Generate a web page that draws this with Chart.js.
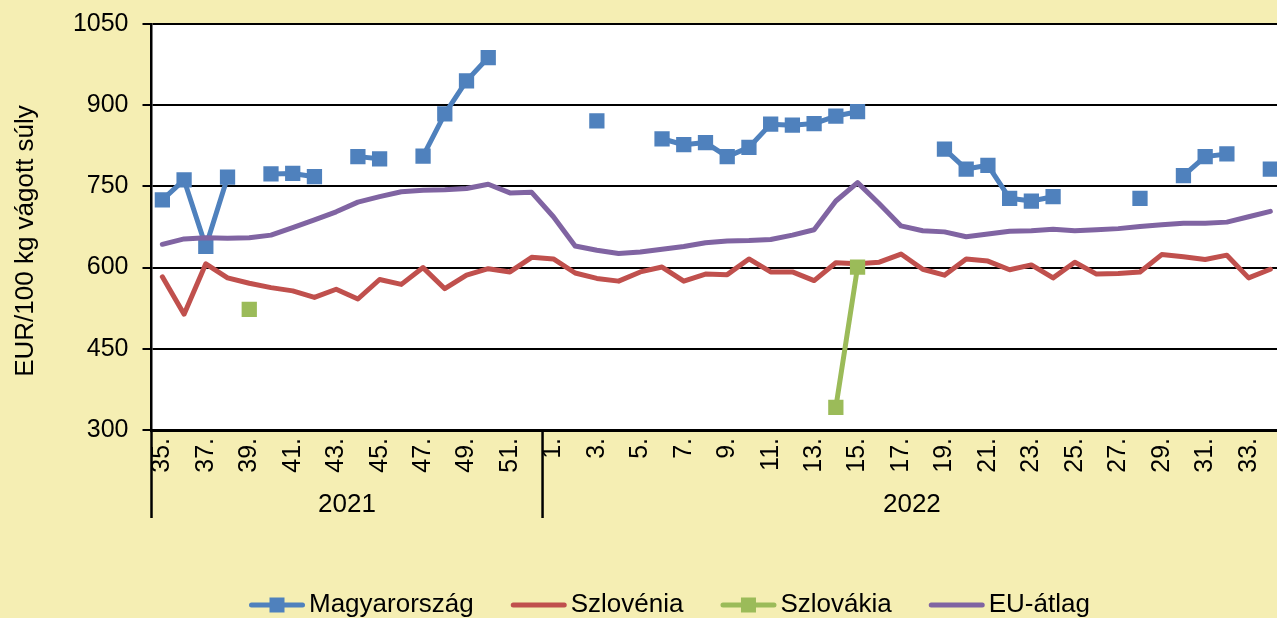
<!DOCTYPE html>
<html>
<head>
<meta charset="utf-8">
<script src="https://cdn.jsdelivr.net/npm/chart.js@4.4.1/dist/chart.umd.min.js"></script>
<style>
  html, body { margin: 0; padding: 0; overflow: hidden; background: #F5EEB3; }
  #wrap { width: 1292px; height: 618px; }
</style>
</head>
<body>
<div id="wrap"><canvas id="c" width="1292" height="618"></canvas></div>
<script>
// Weekly slaughter pig prices, EUR per 100 kg carcass weight
const weeks2021 = [35, 36, 37, 38, 39, 40, 41, 42, 43, 44, 45, 46, 47, 48, 49, 50, 51, 52];
const weeks2022 = [1, 2, 3, 4, 5, 6, 7, 8, 9, 10, 11, 12, 13, 14, 15, 16, 17,
                   18, 19, 20, 21, 22, 23, 24, 25, 26, 27, 28, 29, 30, 31, 32, 33, 34];
const yearLabels = ['2021', '2022'];
const yTicks = [300, 450, 600, 750, 900, 1050];

const magyarorszag = [725, 762, 639, 767, null, 773, 774, 768, null, 805, 801, null, 806, 884, 945, 988, null, null,
  null, null, 871, null, null, 838, 827, 831, 805, 822, 865, 863, 866, 880, 888, null, null, null,
  819, 782, 789, 728, 723, 731, null, null, null, 728, null, 770, 805, 810, null, 782];
const szlovenia = [583, 514, 607, 581, 571, 563, 557, 545, 560, 542, 578, 569, 600, 561, 586, 598, 592, 619,
  616, 590, 580, 575, 592, 601, 575, 588, 587, 616, 592, 592, 576, 609, 607, 610, 625, 597,
  586, 616, 612, 596, 605, 581, 610, 588, 589, 592, 624, 620, 615, 623, 581, 597];
const szlovakia = [null, null, null, null, 523, null, null, null, null, null, null, null, null, null, null, null, null, null,
  null, null, null, null, null, null, null, null, null, null, null, null, null, 342, 601, null, null, null,
  null, null, null, null, null, null, null, null, null, null, null, null, null, null, null, null];
const euAtlag = [643, 653, 655, 654, 655, 660, 674, 688, 703, 721, 731, 740, 743, 744, 746, 754, 738, 739,
  694, 640, 632, 626, 629, 634, 639, 646, 649, 650, 652, 660, 670, 723, 757, 718, 677, 668,
  666, 657, 662, 667, 668, 671, 668, 670, 672, 676, 679, 682, 682, 684, 694, 704];

const weekLabels = weeks2021.concat(weeks2022).map(w => w + '.');
const FONT = '"Liberation Sans", Arial, Helvetica, sans-serif';

const COLORS = {
  hu: '#4F81BD',
  si: '#C0504D',
  sk: '#9BBB59',
  eu: '#8064A2'
};

// white plot area on the yellow page
const plotBackground = {
  id: 'plotBackground',
  beforeDraw(chart) {
    const { ctx, chartArea: a } = chart;
    ctx.save();
    ctx.fillStyle = '#FFFFFF';
    ctx.fillRect(a.left, a.top, a.right - a.left, a.bottom - a.top);
    ctx.restore();
  }
};

// year groups under the week labels, axis title and legend
const decorations = {
  id: 'decorations',
  afterDraw(chart) {
    const { ctx, chartArea: a } = chart;
    const xs = chart.scales.x;
    const n2021 = weeks2021.length;
    const split = (xs.getPixelForValue(n2021 - 1) + xs.getPixelForValue(n2021)) / 2;
    const bounds = [xs.left, split, xs.right];

    ctx.save();
    ctx.strokeStyle = '#000';
    ctx.lineWidth = 2.5;
    bounds.forEach(x => {
      ctx.beginPath();
      ctx.moveTo(x, a.bottom);
      ctx.lineTo(x, 518);
      ctx.stroke();
    });

    ctx.fillStyle = '#000';
    ctx.font = '26px ' + FONT;
    ctx.textAlign = 'center';
    ctx.textBaseline = 'alphabetic';
    yearLabels.forEach((label, i) => {
      ctx.fillText(label, (bounds[i] + bounds[i + 1]) / 2, 511.5);
    });

    // vertical axis title
    ctx.save();
    ctx.translate(33, 241);
    ctx.rotate(-Math.PI / 2);
    ctx.font = '26px ' + FONT;
    ctx.textAlign = 'center';
    ctx.fillText('EUR/100 kg vágott súly', 0, 0);
    ctx.restore();

    // legend
    const items = chart.data.datasets.map(ds => ({
      label: ds.label, color: ds.borderColor, marker: ds.pointRadius > 0
    }));
    ctx.font = '26px ' + FONT;
    ctx.textAlign = 'left';
    let x = 249;
    const y = 605;
    items.forEach(it => {
      ctx.strokeStyle = it.color;
      ctx.lineWidth = 5;
      ctx.lineCap = 'round';
      ctx.beginPath();
      ctx.moveTo(x + 2.5, y);
      ctx.lineTo(x + 53.5, y);
      ctx.stroke();
      if (it.marker) {
        ctx.fillStyle = it.color;
        ctx.fillRect(x + 28 - 7.5, y - 7.5, 15, 15);
      }
      ctx.fillStyle = '#000';
      ctx.fillText(it.label, x + 60, 612);
      x += 60 + ctx.measureText(it.label).width + 37;
    });
    ctx.restore();
  }
};

const lineStyle = {
  borderJoinStyle: 'round',
  borderCapStyle: 'round',
  spanGaps: false,
  fill: false,
  tension: 0
};

new Chart(document.getElementById('c'), {
  type: 'line',
  data: {
    labels: weekLabels,
    datasets: [
      Object.assign({
        label: 'Magyarország', data: magyarorszag, order: 4,
        borderColor: COLORS.hu, backgroundColor: COLORS.hu, borderWidth: 5,
        pointStyle: 'rect', pointRadius: 10.8, pointHoverRadius: 10.8,
        pointBackgroundColor: COLORS.hu, pointBorderColor: COLORS.hu, pointBorderWidth: 0
      }, lineStyle),
      Object.assign({
        label: 'Szlovénia', data: szlovenia, order: 3,
        borderColor: COLORS.si, backgroundColor: COLORS.si, borderWidth: 5,
        pointRadius: 0, pointHoverRadius: 0
      }, lineStyle),
      Object.assign({
        label: 'Szlovákia', data: szlovakia, order: 2,
        borderColor: COLORS.sk, backgroundColor: COLORS.sk, borderWidth: 5,
        pointStyle: 'rect', pointRadius: 10.8, pointHoverRadius: 10.8,
        pointBackgroundColor: COLORS.sk, pointBorderColor: COLORS.sk, pointBorderWidth: 0
      }, lineStyle),
      Object.assign({
        label: 'EU-átlag', data: euAtlag, order: 1,
        borderColor: COLORS.eu, backgroundColor: COLORS.eu, borderWidth: 5,
        pointRadius: 0, pointHoverRadius: 0
      }, lineStyle)
    ]
  },
  options: {
    responsive: false,
    animation: false,
    devicePixelRatio: 1,
    events: [],
    layout: { padding: { left: 0, right: 7, top: 24, bottom: 0 } },
    plugins: {
      legend: { display: false },
      tooltip: { enabled: false }
    },
    scales: {
      x: {
        type: 'category',
        offset: true,
        grid: { display: false, drawTicks: false },
        border: { display: true, color: '#000', width: 3 },
        ticks: {
          autoSkip: false,
          minRotation: 90,
          maxRotation: 90,
          padding: 8,
          color: '#000',
          font: { family: FONT, size: 25 },
          callback: (value, index) => (index % 2 === 0 ? weekLabels[index] : '')
        },
        afterFit(scale) {
          scale.height = 188;
          scale.paddingLeft = 0;
          scale.paddingRight = 0;
        }
      },
      y: {
        min: 300,
        max: 1050,
        afterBuildTicks(scale) {
          scale.ticks = yTicks.map(v => ({ value: v }));
        },
        grid: { color: '#000', lineWidth: 2, tickLength: 9, drawTicks: true },
        border: { display: true, color: '#000', width: 2.5 },
        ticks: {
          padding: 14,
          color: '#000',
          font: { family: FONT, size: 25 },
          callback: value => String(value)
        },
        afterFit(scale) {
          scale.width = 151.5;
          scale.paddingTop = 0;
          scale.paddingBottom = 0;
        }
      }
    }
  },
  plugins: [plotBackground, decorations]
});
</script>
</body>
</html>
